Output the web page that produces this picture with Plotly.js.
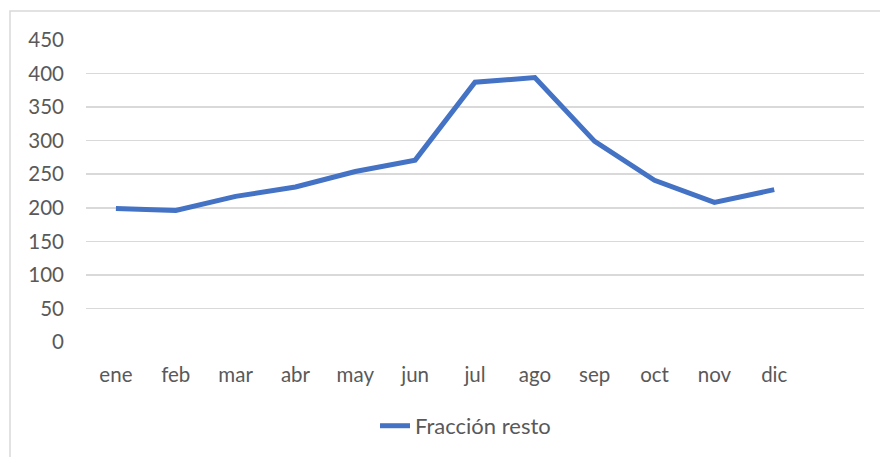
<!DOCTYPE html>
<html>
<head>
<meta charset="utf-8">
<script src="https://cdn.plot.ly/plotly-3.0.1.min.js"></script>
<style>html,body{margin:0;padding:0;background:#fff}#chart{width:880px;height:457px}</style>
</head>
<body>
<div id="chart"></div>
<script>
const months = ["ene","feb","mar","abr","may","jun","jul","ago","sep","oct","nov","dic"];
const values = [199, 196, 217, 231, 254, 271, 387, 394, 299, 241, 208, 227];
const seriesName = "Fracción resto";
const yTicks = [0,50,100,150,200,250,300,350,400,450];

const idx = months.map((m,i)=>i);
const trace = {
  x: idx, y: values, type: 'scatter', mode: 'lines', name: seriesName,
  line: {color: '#4472C4', width: 5, shape: 'linear'},
  showlegend: true
};
const font = {family: 'Lato, "Open Sans", sans-serif', size: 20.5, color: '#595959'};
const legendFont = {family: 'Lato, "Open Sans", sans-serif', size: 22, color: '#595959'};
const layout = {
  width: 880, height: 457,
  margin: {l: 86, r: 16, t: 40, b: 115},
  paper_bgcolor: '#fff', plot_bgcolor: '#fff',
  font: font,
  xaxis: {
    range: [-0.5, 12.5], tickvals: idx, ticktext: months,
    showgrid: false, zeroline: false, showline: false,
    ticks: 'outside', ticklen: 0, ticklabelstandoff: 14,
    tickfont: font, fixedrange: true
  },
  yaxis: {
    range: [0, 450], tickvals: yTicks, ticktext: yTicks.map(String),
    showgrid: true, gridcolor: '#D9D9D9', gridwidth: 1.5,
    zeroline: false, showline: false,
    ticks: '', ticklabelstandoff: 21,
    tickfont: font, fixedrange: true
  },
  showlegend: true,
  legend: {
    orientation: 'h', xref: 'container', yref: 'container',
    x: 0.529, xanchor: 'center', y: 0.068, yanchor: 'middle',
    font: legendFont, bgcolor: 'rgba(0,0,0,0)'
  },
  shapes: [{
    type: 'rect', xref: 'paper', yref: 'paper',
    x0: (10-86)/778, x1: 1.2, y0: -1, y1: 1 + (40-11)/302,
    line: {color: '#D9D9D9', width: 1.5}, fillcolor: 'rgba(0,0,0,0)', layer: 'below'
  }]
};
Plotly.newPlot('chart', [trace], layout, {displayModeBar: false, staticPlot: true});
</script>
</body>
</html>
